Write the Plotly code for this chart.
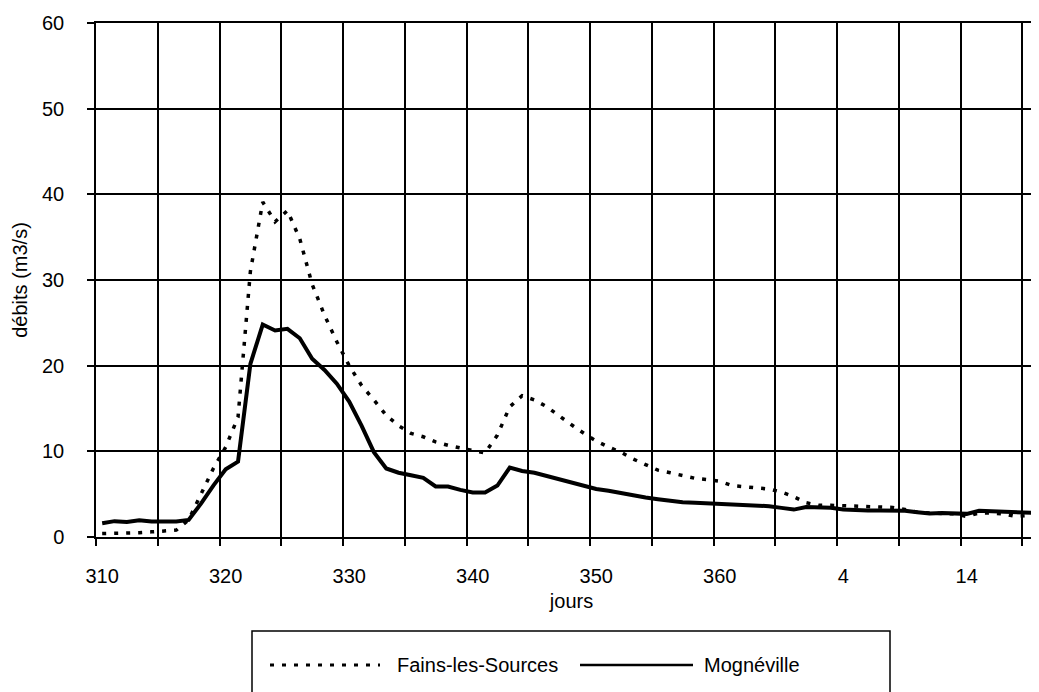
import plotly.graph_objects as go

# jours (numérotation continue : 367 = 1 janvier)
jours = list(range(310, 387))

fains = [0.4, 0.4, 0.45, 0.5, 0.6, 0.65, 0.8, 2.0, 5.0, 8.0,
         10.5, 14.0, 31.0, 39.1, 36.8, 38.1, 34.8, 29.5, 25.9, 22.8,
         20.0, 17.7, 16.0, 14.2, 13.0, 12.1, 11.7, 11.1, 10.7, 10.4,
         10.1, 9.8, 11.9, 15.2, 16.5, 16.0, 15.2, 14.1, 13.1, 12.1,
         11.2, 10.5, 9.9, 9.1, 8.5, 7.8, 7.5, 7.2, 6.85, 6.7,
         6.5, 6.0, 5.9, 5.8, 5.6, 5.25, 4.7, 4.0, 3.7, 3.7,
         3.65, 3.6, 3.5, 3.5, 3.45, 3.2, 2.9, 2.8, 2.75, 2.7,
         2.4, 2.8, 2.8, 2.7, 2.4, 2.5, 2.6]

mogneville = [1.6, 1.85, 1.75, 1.95, 1.8, 1.75, 1.8, 2.0, 3.9, 6.0,
              7.9, 8.8, 20.2, 24.8, 24.1, 24.3, 23.2, 20.8, 19.5, 17.9,
              15.8, 13.0, 9.9, 8.0, 7.5, 7.2, 6.9, 5.9, 5.9, 5.5,
              5.2, 5.2, 6.0, 8.1, 7.7, 7.5, 7.1, 6.7, 6.3, 5.9,
              5.6, 5.4, 5.1, 4.9, 4.6, 4.4, 4.2, 4.05, 4.0, 3.95,
              3.9, 3.8, 3.7, 3.7, 3.6, 3.4, 3.2, 3.5, 3.5, 3.4,
              3.2, 3.1, 3.1, 3.1, 3.1, 3.05, 2.9, 2.75, 2.8, 2.8,
              2.7, 3.05, 3.0, 2.85, 2.8, 2.75, 2.8]

tick_vals = [310, 320, 330, 340, 350, 360, 370, 380]
tick_text = ['310', '320', '330', '340', '350', '360', '4', '14']
grid_vals = [309.5 + 5 * i for i in range(16)]

FONT = dict(family="Liberation Sans, Arial", size=20, color="black")
DOT = "4px,8px"

fig = go.Figure()
fig.add_trace(go.Scatter(x=jours, y=fains, mode="lines", name="Fains-les-Sources",
                         line=dict(color="black", width=3.5, dash=DOT)))
fig.add_trace(go.Scatter(x=jours, y=mogneville, mode="lines", name="Mognéville",
                         line=dict(color="black", width=4)))

fig.update_layout(
    width=1039, height=692,
    margin=dict(l=88, r=0, t=15, b=163),
    paper_bgcolor="white", plot_bgcolor="white",
    font=FONT, showlegend=False,
)

fig.update_xaxes(
    range=[309.5, 386.5],
    tickmode="array", tickvals=tick_vals, ticktext=tick_text,
    ticks="", showgrid=False, ticklabelstandoff=20,
    minor=dict(tickmode="array", tickvals=grid_vals, ticks="outside", ticklen=7,
               tickcolor="black", tickwidth=1.5,
               showgrid=True, gridcolor="black", gridwidth=1.5),
    showline=True, linecolor="black", linewidth=1.5, mirror=True,
    zeroline=False,
    title=dict(text="jours", font=FONT, standoff=8),
)
fig.update_yaxes(
    range=[0, 60], tickmode="linear", tick0=0, dtick=10,
    ticks="outside", ticklen=7, tickcolor="black", tickwidth=1.5,
    ticklabelstandoff=19,
    showgrid=True, gridcolor="black", gridwidth=1.5,
    showline=True, linecolor="black", linewidth=1.5,
    zeroline=False,
    title=dict(text="débits (m3/s)", font=FONT, standoff=9),
)

# légende encadrée sous le graphique (coordonnées papier)
def px(x):
    return (x - 88) / 951


def py(y):
    return (529 - y) / 514


fig.add_shape(type="rect", xref="paper", yref="paper",
              x0=px(244), x1=px(882), y0=py(689), y1=py(623),
              line=dict(color="black", width=1.5))
fig.add_shape(type="line", xref="paper", yref="paper",
              x0=px(262), x1=px(372), y0=py(657), y1=py(657),
              line=dict(color="black", width=3, dash=DOT))
fig.add_shape(type="line", xref="paper", yref="paper",
              x0=px(572), x1=px(685), y0=py(657), y1=py(657),
              line=dict(color="black", width=2.5))
fig.add_annotation(text="Fains-les-Sources", xref="paper", yref="paper",
                   x=px(387), y=py(657), xanchor="left", yanchor="middle",
                   showarrow=False, font=FONT)
fig.add_annotation(text="Mognéville", xref="paper", yref="paper",
                   x=px(694), y=py(657), xanchor="left", yanchor="middle",
                   showarrow=False, font=FONT)

fig.write_html("out.html")
